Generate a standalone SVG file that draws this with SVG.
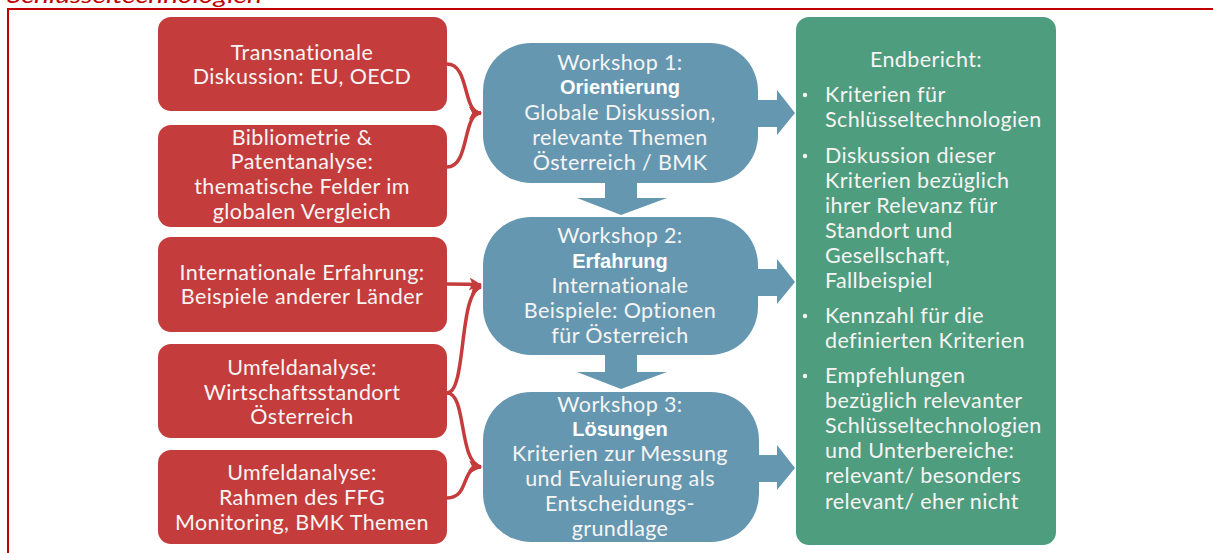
<svg xmlns="http://www.w3.org/2000/svg" width="1213" height="553" viewBox="0 0 1213 553">
<defs>
<style>
.red{fill:#c53c3c}
.blue{fill:#6598b0}
.green{fill:#4e9d7e}
.t{font-family:Lato,"Open Sans","Liberation Sans",sans-serif;font-size:21.5px;letter-spacing:0.4px;fill:#f7f4f4}
.c{text-anchor:middle}
.b{font-family:"Liberation Sans",Arial,sans-serif;font-weight:bold;font-size:20px;fill:#ffffff;text-anchor:middle}
.con{fill:none;stroke:#c53c3c;stroke-width:3.5}
</style>
<marker id="ah" viewBox="0 0 12 12" refX="11" refY="6" markerWidth="13" markerHeight="13" markerUnits="userSpaceOnUse" orient="auto">
<path d="M0,0 L12,6 L0,12 L3,6 Z" fill="#c53c3c"/>
</marker>
</defs>
<rect width="1213" height="553" fill="#ffffff"/>
<text x="7" y="3" font-family="Lato,'Liberation Sans',sans-serif" font-style="italic" font-size="22" fill="#c00000" textLength="255" lengthAdjust="spacingAndGlyphs">Schlüsseltechnologien</text>
<rect x="8" y="9" width="1300" height="600" fill="none" stroke="#c00000" stroke-width="2"/>

<g id="connectors">
<path class="con" d="M447,64 C470,64 462,113 481,113" marker-end="url(#ah)"/>
<path class="con" d="M447,167 C470,167 462,113 481,113" marker-end="url(#ah)"/>
<path class="con" d="M447,284 C462,284 470,284 481,285" marker-end="url(#ah)"/>
<path class="con" d="M447,393 C467,393 458,292 481,287" marker-end="url(#ah)"/>
<path class="con" d="M447,393 C467,393 458,462 481,467" marker-end="url(#ah)"/>
<path class="con" d="M447,498 C470,498 460,467 481,467" marker-end="url(#ah)"/>
</g>

<g id="flow-arrows">
<polygon class="blue" points="740,100 777,100 777,90 795,113 777,135 777,127 740,127"/>
<polygon class="blue" points="740,269 777,269 777,259 795,282 777,304 777,296 740,296"/>
<polygon class="blue" points="740,455 777,455 777,445 795,468 777,490 777,482 740,482"/>
<polygon class="blue" points="605,170 637,170 637,198 667,198 621,215 577,198 605,198"/>
<polygon class="blue" points="605,340 637,340 637,372 667,372 621,389 577,372 605,372"/>
</g>

<g id="src1">
<rect class="red" x="158" y="17" width="289" height="94" rx="13"/>
<text class="t c" x="302" y="60">Transnationale</text>
<text class="t c" x="302" y="84">Diskussion: EU, OECD</text>
</g>
<g id="src2">
<rect class="red" x="158" y="125" width="289" height="102" rx="13"/>
<text class="t c" x="302" y="145">Bibliometrie &amp;</text>
<text class="t c" x="302" y="169">Patentanalyse:</text>
<text class="t c" x="302" y="194">thematische Felder im</text>
<text class="t c" x="302" y="219">globalen Vergleich</text>
</g>
<g id="src3">
<rect class="red" x="158" y="237" width="289" height="95" rx="13"/>
<text class="t c" x="302" y="280">Internationale Erfahrung:</text>
<text class="t c" x="302" y="304">Beispiele anderer Länder</text>
</g>
<g id="src4">
<rect class="red" x="158" y="344" width="289" height="94" rx="13"/>
<text class="t c" x="302" y="375">Umfeldanalyse:</text>
<text class="t c" x="302" y="400">Wirtschaftsstandort</text>
<text class="t c" x="302" y="424">Österreich</text>
</g>
<g id="src5">
<rect class="red" x="158" y="450" width="289" height="94" rx="13"/>
<text class="t c" x="302" y="480">Umfeldanalyse:</text>
<text class="t c" x="302" y="505">Rahmen des FFG</text>
<text class="t c" x="302" y="530">Monitoring, BMK Themen</text>
</g>

<g id="ws1">
<rect class="blue" x="483" y="43" width="275" height="140" rx="48"/>
<text class="t c" x="620" y="70">Workshop 1:</text>
<text class="b" x="620" y="94">Orientierung</text>
<text class="t c" x="620" y="120">Globale Diskussion,</text>
<text class="t c" x="620" y="145">relevante Themen</text>
<text class="t c" x="620" y="170">Österreich / BMK</text>
</g>
<g id="ws2">
<rect class="blue" x="483" y="217" width="275" height="138" rx="48"/>
<text class="t c" x="620" y="243">Workshop 2:</text>
<text class="b" x="620" y="268">Erfahrung</text>
<text class="t c" x="620" y="293">Internationale</text>
<text class="t c" x="620" y="318">Beispiele: Optionen</text>
<text class="t c" x="620" y="343">für Österreich</text>
</g>
<g id="ws3">
<rect class="blue" x="483" y="392" width="276" height="150" rx="48"/>
<text class="t c" x="620" y="412">Workshop 3:</text>
<text class="b" x="620" y="436">Lösungen</text>
<text class="t c" x="620" y="461">Kriterien zur Messung</text>
<text class="t c" x="620" y="486">und Evaluierung als</text>
<text class="t c" x="620" y="511">Entscheidungs-</text>
<text class="t c" x="620" y="536">grundlage</text>
</g>

<g id="endbericht">
<rect class="green" x="796" y="17" width="260" height="528" rx="13"/>
<text class="t c" x="926" y="67">Endbericht:</text>
<g class="t">
<circle cx="805" cy="95" r="2.2" fill="#f7f4f4"/>
<text x="825" y="102">Kriterien für</text>
<text x="825" y="127">Schlüsseltechnologien</text>
<circle cx="805" cy="156" r="2.2" fill="#f7f4f4"/>
<text x="825" y="163">Diskussion dieser</text>
<text x="825" y="188">Kriterien bezüglich</text>
<text x="825" y="213">ihrer Relevanz für</text>
<text x="825" y="238">Standort und</text>
<text x="825" y="263">Gesellschaft,</text>
<text x="825" y="288">Fallbeispiel</text>
<circle cx="805" cy="316" r="2.2" fill="#f7f4f4"/>
<text x="825" y="323">Kennzahl für die</text>
<text x="825" y="348">definierten Kriterien</text>
<circle cx="805" cy="376" r="2.2" fill="#f7f4f4"/>
<text x="825" y="383">Empfehlungen</text>
<text x="825" y="408">bezüglich relevanter</text>
<text x="825" y="433">Schlüsseltechnologien</text>
<text x="825" y="458">und Unterbereiche:</text>
<text x="825" y="483">relevant/ besonders</text>
<text x="825" y="509">relevant/ eher nicht</text>
</g>
</g>
</svg>
